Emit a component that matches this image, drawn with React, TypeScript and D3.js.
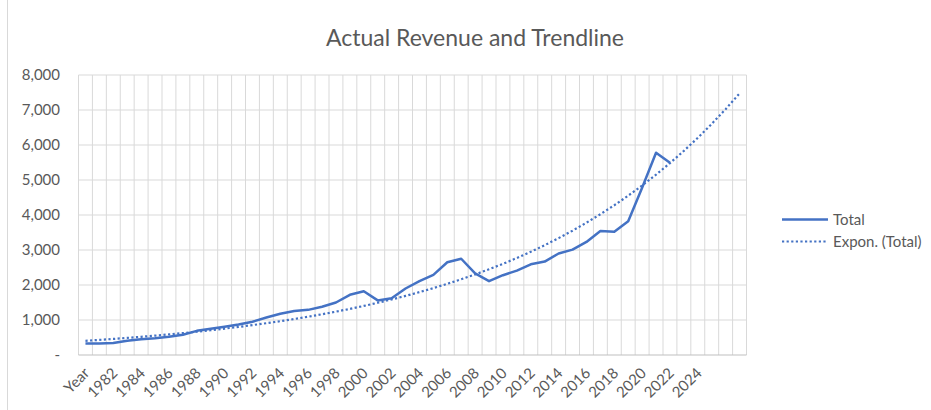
import React from "react";
import * as d3 from "d3";

const title = "Actual Revenue and Trendline";

const categories: string[] = [
  "Year", "1981", "1982", "1983", "1984", "1985", "1986", "1987", "1988", "1989",
  "1990", "1991", "1992", "1993", "1994", "1995", "1996", "1997", "1998", "1999",
  "2000", "2001", "2002", "2003", "2004", "2005", "2006", "2007", "2008", "2009",
  "2010", "2011", "2012", "2013", "2014", "2015", "2016", "2017", "2018", "2019",
  "2020", "2021", "2022", "2023", "2024", "2025", "", "",
];

const totals: number[] = [
  330, 330, 340, 410, 450, 480, 520, 580, 690, 750,
  810, 870, 950, 1070, 1180, 1260, 1290, 1380, 1500, 1720,
  1820, 1560, 1620, 1900, 2110, 2290, 2650, 2750, 2330, 2110,
  2280, 2410, 2590, 2670, 2900, 3010, 3230, 3540, 3520, 3820,
  4780, 5780, 5490,
];

const yTicks: number[] = [0, 1000, 2000, 3000, 4000, 5000, 6000, 7000, 8000];
const yTickLabels: string[] = ["-", "1,000", "2,000", "3,000", "4,000", "5,000", "6,000", "7,000", "8,000"];

const seriesName = "Total";
const trendName = "Expon. (Total)";

const W = 931;
const H = 410;
const plot = { left: 78.5, right: 746.5, top: 75, bottom: 355 };
const BLUE = "#4472C4";
const GRID = "#d9d9d9";
const TEXT = "#595959";
const FONT = "Lato, 'Open Sans', sans-serif";

// Exponential least-squares fit (as Excel's Expon. trendline), on ln(y)
function expFit(vals: number[]) {
  const xs = vals.map((_, i) => i);
  const ls = vals.map((v) => Math.log(v));
  const mx = d3.mean(xs) as number;
  const ml = d3.mean(ls) as number;
  let num = 0;
  let den = 0;
  xs.forEach((x, i) => {
    num += (x - mx) * (ls[i] - ml);
    den += (x - mx) * (x - mx);
  });
  const b = num / den;
  const a = Math.exp(ml - b * mx);
  return (x: number) => a * Math.exp(b * x);
}

export default function App() {
  const idx = d3.range(categories.length);
  const x = d3.scaleBand<number>().domain(idx).range([plot.left, plot.right]).paddingInner(0).paddingOuter(0);
  const cx = (i: number) => (x(i) as number) + x.bandwidth() / 2;
  const y = d3.scaleLinear().domain([0, 8000]).range([plot.bottom, plot.top]);

  const line = d3
    .line<number>()
    .x((_, i) => cx(i))
    .y((d) => y(d));

  const trend = expFit(totals);
  const trendVals = idx.map((i) => trend(i));
  const trendPath = line(trendVals) as string;
  const totalPath = line(totals) as string;

  return (
    <svg
      width={W}
      height={H}
      style={{ position: "absolute", left: 0, top: 0, background: "#fff" }}
      fontFamily={FONT}
    >
      <rect x={0} y={0} width={W} height={H} fill="#fff" />
      <line x1={7.5} x2={7.5} y1={0} y2={H} stroke={GRID} strokeWidth={1} />

      <text x={475} y={46} textAnchor="middle" fontSize={23} fill={TEXT}>
        {title}
      </text>

      {/* horizontal gridlines */}
      {yTicks.map((t) =>
        t === 0 ? null : (
          <line key={"h" + t} x1={plot.left} x2={plot.right} y1={y(t)} y2={y(t)} stroke={GRID} strokeWidth={1} />
        )
      )}
      {/* vertical gridlines at category boundaries */}
      {d3.range(categories.length + 1).map((i) => {
        const xx = plot.left + i * x.bandwidth();
        return <line key={"v" + i} x1={xx} x2={xx} y1={plot.top} y2={plot.bottom} stroke={GRID} strokeWidth={1} />;
      })}
      <line x1={plot.left} x2={plot.right} y1={plot.bottom} y2={plot.bottom} stroke="#bfbfbf" strokeWidth={1.2} />

      {/* y labels */}
      {yTicks.map((t, i) => (
        <text key={"yl" + t} x={60} y={y(t) + 5} textAnchor="end" fontSize={15} fill={TEXT}>
          {yTickLabels[i]}
        </text>
      ))}

      {/* x labels */}
      {categories.map((c, i) =>
        c !== "" && i % 2 === 0 ? (
          <text
            key={"xl" + i}
            transform={`translate(${cx(i) + 5},${plot.bottom + 19}) rotate(-45)`}
            textAnchor="end"
            fontSize={15}
            fill={TEXT}
          >
            {c}
          </text>
        ) : null
      )}

      {/* series */}
      <path d={totalPath} fill="none" stroke={BLUE} strokeWidth={2.5} strokeLinejoin="round" />
      <path d={trendPath} fill="none" stroke={BLUE} strokeWidth={2.2} strokeDasharray="2.2 2.4" />

      {/* legend */}
      <line x1={782} x2={828} y1={219.5} y2={219.5} stroke={BLUE} strokeWidth={2.5} />
      <text x={833} y={225} fontSize={15} fill={TEXT}>
        {seriesName}
      </text>
      <line x1={782} x2={828} y1={241.5} y2={241.5} stroke={BLUE} strokeWidth={2.2} strokeDasharray="2.2 2.4" />
      <text x={833} y={247} fontSize={15} fill={TEXT}>
        {trendName}
      </text>
    </svg>
  );
}
